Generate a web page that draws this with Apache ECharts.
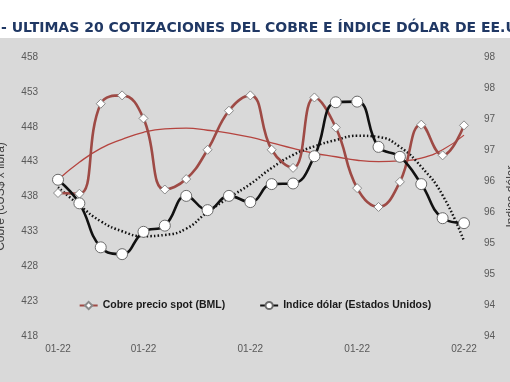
<!DOCTYPE html>
<html><head><meta charset="utf-8">
<script src="https://cdn.jsdelivr.net/npm/echarts@6/dist/echarts.min.js"></script>
<style>html,body{margin:0;padding:0;background:#fff}#c{width:510px;height:382px}</style>
</head><body><div id="c"></div>
<script>
const titleText = "- ULTIMAS 20 COTIZACIONES DEL COBRE E ÍNDICE DÓLAR DE EE.UU.";
const categories = ["01-22","01-22","01-22","01-22","01-22","01-22","01-22","01-22","01-22","01-22",
                    "01-22","01-22","01-22","01-22","01-22","01-22","01-22","01-22","01-22","02-22"];
const shownLabels = [0, 4, 9, 14, 19];
const cobre = [438.5, 438.4, 451.3, 452.5, 449.2, 439.0, 440.5, 444.7, 450.3, 452.5,
               444.7, 442.1, 452.2, 447.9, 439.2, 436.5, 440.1, 448.3, 443.9, 448.2];
const dolar = [96.02, 95.64, 94.93, 94.82, 95.18, 95.28, 95.76, 95.53, 95.76, 95.66,
               95.95, 95.96, 96.40, 97.27, 97.28, 96.55, 96.39, 95.95, 95.40, 95.32];
const cobreTrend = [440.4, 442.9, 444.9, 446.2, 447.2, 447.7, 447.8, 447.5, 447.1, 446.5,
                    445.7, 444.9, 444.2, 443.7, 443.2, 443.0, 443.1, 443.5, 444.7, 446.8];
const dolarTrend = [95.90, 95.61, 95.35, 95.19, 95.11, 95.13, 95.23, 95.50, 95.73, 95.95,
                    96.21, 96.42, 96.56, 96.66, 96.73, 96.71, 96.55, 96.23, 95.77, 95.03];
const seriesNames = ["Cobre precio spot (BML)", "Indice dólar (Estados Unidos)"];
const axisNames = ["Cobre (cUS$ x libra)", "Indice dólar"];

const chart = echarts.init(document.getElementById('c'), null, {renderer: 'canvas'});
const labelStyle = {color: '#595959', fontSize: 10, fontFamily: 'Liberation Sans'};
chart.setOption({
  backgroundColor: '#ffffff',
  animation: false,
  graphic: [
    {type: 'rect', z: -10, shape: {x: 0, y: 38, width: 510, height: 344}, style: {fill: '#d9d9d9'}, silent: true},
    {type: 'text', left: 1, top: 21, style: {text: titleText, fill: '#203864', font: 'bold 14px "DejaVu Sans"'}}
  ],
  grid: {left: 58, right: 46, top: 57, bottom: 46, containLabel: false, outerBoundsMode: 'none'},
  legend: {
    data: seriesNames, left: 'center', top: 295, itemGap: 34, itemWidth: 18, itemHeight: 9,
    textStyle: {color: '#1a1a1a', fontSize: 10.5, fontWeight: 'bold', fontFamily: 'Liberation Sans'}
  },
  xAxis: {
    type: 'category', data: categories, boundaryGap: false,
    axisLine: {show: false}, axisTick: {show: false}, splitLine: {show: false},
    axisLabel: Object.assign({margin: 8, interval: (i) => shownLabels.includes(i)}, labelStyle)
  },
  yAxis: [
    {type: 'value', min: 418, max: 458, interval: 5, position: 'left',
     name: axisNames[0], nameLocation: 'middle', nameRotate: 90, nameGap: 51,
     nameTextStyle: {color: '#404040', fontSize: 12, fontFamily: 'Liberation Sans'},
     axisLine: {show: false}, axisTick: {show: false}, splitLine: {show: false},
     axisLabel: Object.assign({margin: 20}, labelStyle)},
    {type: 'value', min: 93.5, max: 98, interval: 0.5, position: 'right',
     name: axisNames[1], nameLocation: 'middle', nameRotate: 90, nameGap: 38,
     nameTextStyle: {color: '#404040', fontSize: 12, fontFamily: 'Liberation Sans'},
     axisLine: {show: false}, axisTick: {show: false}, splitLine: {show: false},
     axisLabel: Object.assign({margin: 20, formatter: (v) => String(Math.round(v))}, labelStyle)}
  ],
  series: [
    {name: 'tc', type: 'line', yAxisIndex: 0, data: cobreTrend, smooth: 0.5, symbol: 'none',
     lineStyle: {color: '#b5443f', width: 1.3}, z: 1, silent: true},
    {name: 'td', type: 'line', yAxisIndex: 1, data: dolarTrend, smooth: 0.5, symbol: 'none',
     lineStyle: {color: '#111', width: 2.5, type: [1.5, 2.2]}, z: 1, silent: true},
    {name: seriesNames[0], type: 'line', yAxisIndex: 0, data: cobre, smooth: 0.45,
     symbol: 'diamond', symbolSize: 9,
     lineStyle: {color: '#9e4a45', width: 2.6},
     itemStyle: {color: '#ffffff', borderColor: '#8a8a8a', borderWidth: 1}, z: 3},
    {name: seriesNames[1], type: 'line', yAxisIndex: 1, data: dolar, smooth: 0.45,
     symbol: 'circle', symbolSize: 11,
     lineStyle: {color: '#111111', width: 2.6},
     itemStyle: {color: '#ffffff', borderColor: '#6b6b6b', borderWidth: 1}, z: 4}
  ]
});
</script></body></html>
